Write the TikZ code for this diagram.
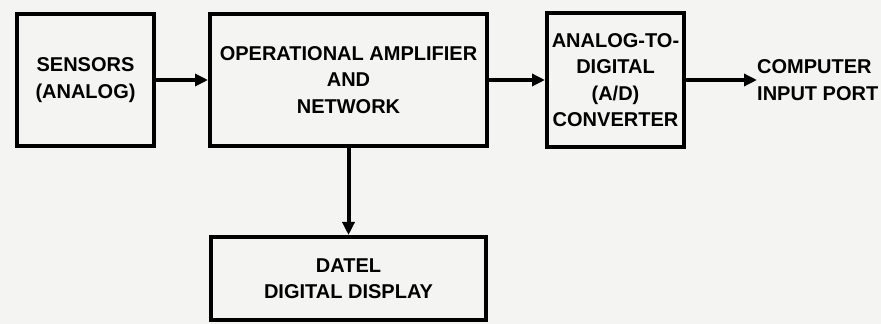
\documentclass[tikz,border=0pt]{standalone}
\usepackage{fontspec}
\setmainfont{Liberation Sans}
\usepackage{tikz}
\usetikzlibrary{positioning,arrows.meta}

\definecolor{paper}{RGB}{244,244,242}

\tikzset{
    blockbox/.style={draw,line width=4pt,align=center,inner sep=0pt},
    flow/.style={line width=4pt,-{Triangle[length=13pt,width=12pt]}},
    lettering/.style={font=\fontsize{20}{26.5}\selectfont\bfseries}
}

\begin{document}
\begin{tikzpicture}[x=1pt,y=1pt,lettering]
            \fill[paper] (0,0) rectangle (881,324);
            \useasboundingbox (0,0) rectangle (881,324);

            \node[blockbox,minimum width=137pt,minimum height=132pt]
                (sensors) at (85.5,244) {SENSORS\\(ANALOG)};

            \node[blockbox,minimum width=277pt,minimum height=132pt,
                right=52pt of sensors]
                (opamp) {OPERATIONAL AMPLIFIER\\AND\\NETWORK};

            \node[blockbox,minimum width=137pt,minimum height=134pt,
                right=56pt of opamp]
                (adc) {ANALOG-TO-\\DIGITAL\\(A/D)\\CONVERTER};

            \node[align=left,anchor=west,inner sep=0pt,
                right=71pt of adc]
                (port) {COMPUTER\\INPUT PORT};

            \node[blockbox,minimum width=275pt,minimum height=83pt,
                below=87pt of opamp]
                (datel) {DATEL\\DIGITAL DISPLAY};

            \draw[flow] (sensors) -- (opamp);
            \draw[flow] (opamp) -- (adc);
            \draw[flow] (adc.east) -- (port.west);
            \draw[flow] (opamp) -- (datel);
        \end{tikzpicture}
\end{document}
